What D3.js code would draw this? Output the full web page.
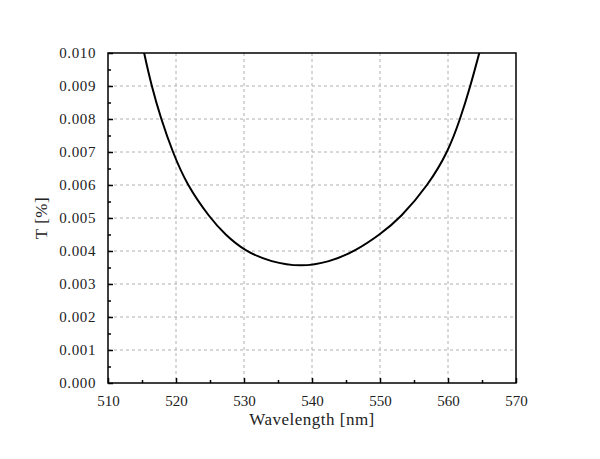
<!DOCTYPE html>
<html>
<head>
<style>
  body { margin: 0; background: #fff; }
  text { font-family: "Liberation Serif", serif; fill: #222; }
</style>
</head>
<body>
<script src="https://d3js.org/d3.v7.min.js"></script>
<script>
// values
const wavelength = [514.3, 515.3, 516.4, 517.8, 519.5, 521.6, 525.0, 527.2, 530.1, 534, 538.4, 542.5, 546.4, 550.0, 553.0, 557.1, 560, 561.8, 563.3, 564.6, 565.9]
const transmission = [0.0110, 0.0100, 0.0090, 0.0080, 0.0070, 0.0060, 0.0050, 0.0045, 0.0040, 0.00366, 0.00352, 0.00366, 0.0040, 0.0045, 0.0050, 0.0060, 0.0070, 0.0080, 0.0090, 0.0100, 0.0110]
const xTicks = [510, 520, 530, 540, 550, 560, 570]
const yTicks = [0, 0.001, 0.002, 0.003, 0.004, 0.005, 0.006, 0.007, 0.008, 0.009, 0.010]

const w = 600
const h = 459
const padL = 108, padR = 516, padT = 53, padB = 383

const data = wavelength.map((d, i) => ({x: d, y: transmission[i]}))

const xScale = d3.scaleLinear().domain([510, 570]).range([padL, padR])
const yScale = d3.scaleLinear().domain([0, 0.010]).range([padB, padT])

const svg = d3.select("body").append("svg").attr("width", w).attr("height", h)

// grid
svg.append("g").selectAll("line").data(xTicks.slice(1, -1)).enter().append("line")
  .attr("x1", d => xScale(d)).attr("x2", d => xScale(d))
  .attr("y1", padT).attr("y2", padB)
  .attr("stroke", "#b0b0b0").attr("stroke-dasharray", "3,3")
svg.append("g").selectAll("line").data(yTicks.slice(1, -1)).enter().append("line")
  .attr("y1", d => yScale(d)).attr("y2", d => yScale(d))
  .attr("x1", padL).attr("x2", padR)
  .attr("stroke", "#b0b0b0").attr("stroke-dasharray", "3,3")

// curve
svg.append("defs").append("clipPath").attr("id", "clip")
  .append("rect").attr("x", padL).attr("y", padT).attr("width", padR - padL).attr("height", padB - padT)

const line = d3.line().x(d => xScale(d.x)).y(d => yScale(d.y)).curve(d3.curveBasis)
svg.append("path").datum(data)
  .attr("clip-path", "url(#clip)")
  .attr("d", line)
  .attr("fill", "none").attr("stroke", "#000").attr("stroke-width", 2)

// x axis
const xAxis = d3.axisBottom(xScale).tickValues(xTicks).tickSize(-5).tickPadding(12).tickFormat(d3.format("d"))
const gx = svg.append("g").attr("transform", "translate(0," + padB + ")").call(xAxis)
gx.selectAll("text").attr("font-size", 15).attr("font-family", "Liberation Serif").attr("fill", "#222")
const xMinor = d3.axisBottom(xScale).tickValues(d3.range(515, 570, 10)).tickSize(-3).tickFormat("")
svg.append("g").attr("transform", "translate(0," + padB + ")").call(xMinor).select(".domain").remove()

// y axis
const yAxis = d3.axisLeft(yScale).tickValues(yTicks).tickSize(-5).tickPadding(12).tickFormat(d3.format(".3f"))
const gy = svg.append("g").attr("transform", "translate(" + padL + ",0)").call(yAxis)
gy.selectAll("text").attr("font-size", 15).attr("font-family", "Liberation Serif").attr("fill", "#222").attr("letter-spacing", 0.6)
const yMinor = d3.axisLeft(yScale).tickValues(d3.range(0.0005, 0.010, 0.001)).tickSize(-3).tickFormat("")
svg.append("g").attr("transform", "translate(" + padL + ",0)").call(yMinor).select(".domain").remove()

svg.selectAll(".tick line").attr("stroke", "#000").attr("stroke-width", 1.5)

// frame
svg.append("rect").attr("x", padL).attr("y", padT).attr("width", padR - padL).attr("height", padB - padT)
  .attr("fill", "none").attr("stroke", "#000").attr("stroke-width", 1.5)
svg.selectAll(".domain").remove()

// labels
svg.append("text").attr("x", (padL + padR) / 2).attr("y", 425)
  .attr("text-anchor", "middle").attr("font-size", 17).attr("letter-spacing", 0.5)
  .text("Wavelength [nm]")
svg.append("text").attr("transform", "translate(47," + ((padT + padB) / 2) + ") rotate(-90)")
  .attr("text-anchor", "middle").attr("font-size", 17).attr("letter-spacing", 0.5)
  .text("T [%]")
</script>
</body>
</html>
